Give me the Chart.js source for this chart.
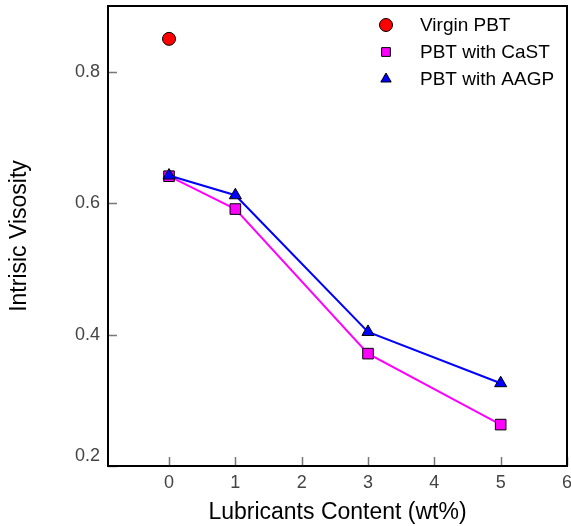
<!DOCTYPE html>
<html>
<head>
<meta charset="utf-8">
<script src="https://cdn.jsdelivr.net/npm/chart.js@4/dist/chart.umd.min.js"></script>
<style>
  html, body { margin: 0; padding: 0; background: #fff; }
  #wrap { width: 571px; height: 526px; }
</style>
</head>
<body>
<div id="wrap"><canvas id="chart" width="571" height="526"></canvas></div>
<script>
// data
const lubricant = [0, 1, 3, 5];
const virginX = [0];
const virginPBT = [0.85];
const withCaST = [0.641, 0.591, 0.371, 0.263];
const withAAGP = [0.642, 0.612, 0.404, 0.326];

const xTicks = [0, 1, 2, 3, 4, 5, 6];
const yTicks = [0.2, 0.4, 0.6, 0.8];

const FONT = '"Liberation Sans", Arial, Helvetica, sans-serif';

function pts(xs, ys) {
  return xs.map((x, i) => ({ x: x, y: ys[i] }));
}

// box, inward tick marks, tick labels and the legend inside the plot
const framePlugin = {
  id: 'frame',
  afterDraw(chart) {
    const ctx = chart.ctx;
    const a = chart.chartArea;
    const xs = chart.scales.x, ys = chart.scales.y;
    ctx.save();
    ctx.strokeStyle = '#777';
    ctx.lineWidth = 1.5;
    ctx.beginPath();
    xTicks.forEach(v => {
      const px = Math.round(xs.getPixelForValue(v)) + 0.5;
      ctx.moveTo(px, a.bottom);
      ctx.lineTo(px, a.bottom - 9);
    });
    yTicks.forEach(v => {
      const py = Math.round(ys.getPixelForValue(v)) + 0.5;
      ctx.moveTo(a.left, py);
      ctx.lineTo(a.left + 9, py);
    });
    ctx.stroke();

    ctx.strokeStyle = '#000';
    ctx.lineWidth = 2;
    ctx.strokeRect(a.left, a.top, a.right - a.left, a.bottom - a.top);

    // tick labels
    ctx.fillStyle = '#444';
    ctx.font = '18px ' + FONT;
    ctx.textBaseline = 'middle';
    ctx.textAlign = 'center';
    xTicks.forEach(v => {
      ctx.fillText(String(v), xs.getPixelForValue(v), a.bottom + 17);
    });
    ctx.textAlign = 'right';
    yTicks.forEach(v => {
      const py = Math.min(ys.getPixelForValue(v), a.bottom - 10);
      ctx.fillText(v.toFixed(1), a.left - 8, py);
    });

    // legend
    const items = chart.data.datasets;
    const sizes = [6.5, 6.2, 6];
    ctx.font = '19px ' + FONT;
    ctx.textAlign = 'left';
    items.forEach((ds, i) => {
      const y = 25 + i * 27;
      ctx.fillStyle = ds.pointBackgroundColor;
      ctx.strokeStyle = '#000';
      ctx.lineWidth = 1;
      Chart.helpers.drawPoint(ctx, {
        pointStyle: ds.pointStyle, radius: sizes[i], borderWidth: 1, rotation: 0
      }, 386, y);
      ctx.fillStyle = '#000';
      ctx.fillText(ds.label, 420, y + 1);
    });
    ctx.restore();
  }
};

new Chart(document.getElementById('chart'), {
  type: 'scatter',
  data: {
    datasets: [
      {
        label: 'Virgin PBT',
        data: pts(virginX, virginPBT),
        pointStyle: 'circle',
        pointRadius: 6.5,
        pointBackgroundColor: '#ff0000',
        pointBorderColor: '#000',
        pointBorderWidth: 1,
        showLine: false,
        order: 2
      },
      {
        label: 'PBT with CaST',
        data: pts(lubricant, withCaST),
        pointStyle: 'rect',
        pointRadius: 7.5,
        pointBackgroundColor: '#ff00ff',
        pointBorderColor: '#000',
        pointBorderWidth: 1,
        borderColor: '#ff00ff',
        borderWidth: 2,
        showLine: true,
        order: 1
      },
      {
        label: 'PBT with AAGP',
        data: pts(lubricant, withAAGP),
        pointStyle: 'triangle',
        pointRadius: 7,
        pointBackgroundColor: '#0000ff',
        pointBorderColor: '#000',
        pointBorderWidth: 1,
        borderColor: '#0000ff',
        borderWidth: 2,
        showLine: true,
        order: 0
      }
    ]
  },
  options: {
    responsive: false,
    animation: false,
    events: [],
    layout: { autoPadding: false, padding: { top: 6, right: 4, left: 0, bottom: 0 } },
    plugins: { legend: { display: false }, tooltip: { enabled: false } },
    scales: {
      x: {
        type: 'linear',
        min: -0.92,
        max: 6,
        afterFit: s => { s.height = 60; },
        grid: { display: false, drawTicks: false },
        border: { display: false },
        ticks: { display: false },
        title: {
          display: true,
          text: 'Lubricants Content (wt%)',
          color: '#000',
          font: { family: FONT, size: 23 },
          padding: { top: 5, bottom: 0 }
        }
      },
      y: {
        type: 'linear',
        min: 0.2,
        max: 0.9,
        afterFit: s => { s.width = 108; },
        grid: { display: false, drawTicks: false },
        border: { display: false },
        ticks: { display: false },
        title: {
          display: true,
          text: 'Intrisic Visosity',
          color: '#000',
          font: { family: FONT, size: 23 },
          padding: { top: 6, bottom: 0 }
        }
      }
    }
  },
  plugins: [framePlugin]
});
</script>
</body>
</html>
